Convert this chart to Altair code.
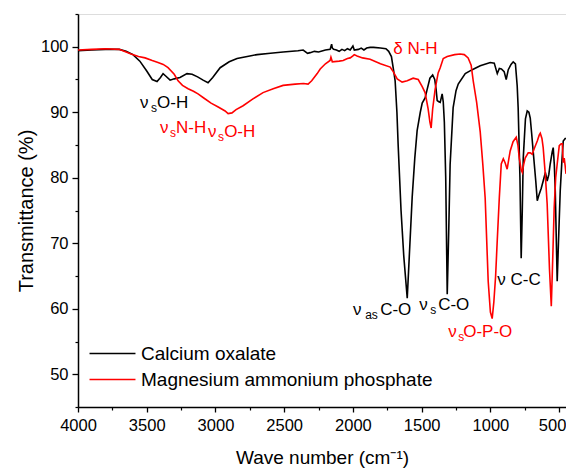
import altair as alt
import pandas as pd

# ---------------- data ----------------
series_names = ["Calcium oxalate", "Magnesium ammonium phosphate"]
series_colors = ["#000000", "#ff0000"]

co_wn = [4000, 3900, 3800, 3700, 3650, 3600, 3550, 3500, 3460, 3425, 3400, 3381, 3360, 3330,
         3300, 3258, 3207, 3170, 3130, 3090, 3054, 3020, 2966, 2900, 2843, 2750, 2697, 2600,
         2508, 2400, 2362, 2330, 2311, 2280, 2250, 2200, 2166, 2155, 2150, 2140, 2120, 2100,
         2080, 2060, 2040, 2020, 2000, 1990, 1960, 1940, 1920, 1900, 1875, 1850, 1800, 1760,
         1740, 1720, 1705, 1693, 1680, 1671, 1650, 1630, 1605, 1590, 1569, 1550, 1533, 1510,
         1496, 1475, 1460, 1440, 1420, 1405, 1395, 1387, 1375, 1365, 1351, 1343, 1335, 1325,
         1314, 1303, 1293, 1271, 1250, 1234, 1183, 1132, 1074, 1001, 972, 950, 935, 920, 900,
         885, 870, 850, 834, 818, 805, 798, 785, 776, 768, 761, 745, 732, 720, 710, 700, 689,
         670, 659, 645, 630, 616, 600, 587, 575, 565, 550, 543, 535, 528, 520, 514, 505, 492,
         480, 470, 456, 450]
co_t = [99.4, 99.5, 99.6, 99.6, 99.3, 98.8, 97.8, 96.3, 95.0, 94.7, 95.3, 95.9, 95.5, 94.9,
        95.1, 95.3, 95.9, 95.8, 95.4, 94.9, 94.5, 95.3, 96.8, 97.7, 98.2, 98.6, 98.8, 99.0,
        99.2, 99.4, 99.5, 99.0, 99.1, 99.3, 99.2, 99.5, 99.6, 100.4, 99.8, 99.6, 99.5, 99.3,
        99.6, 99.4, 99.7, 99.5, 100.1, 99.5, 99.6, 99.8, 99.5, 99.8, 99.9, 99.9, 99.8, 99.7,
        99.3, 98.5, 96.5, 94.8, 90.0, 85.0, 75.0, 68.0, 61.6, 68.0, 77.0, 83.0, 87.2, 90.0,
        91.4, 92.2, 93.5, 95.2, 95.7, 95.0, 93.5, 91.8, 91.6, 91.5, 92.8, 91.6, 88.5, 80.0,
        62.2, 72.0, 82.0, 90.7, 93.3, 94.3, 95.9, 96.5, 97.1, 97.6, 97.5, 95.9, 96.7, 96.6, 96.2,
        95.0, 96.5, 97.3, 97.7, 97.4, 94.0, 90.7, 80.0, 67.7, 75.0, 83.0, 89.0, 90.2, 90.0, 89.1,
        86.8, 84.1, 79.5, 76.5, 77.5, 78.4, 79.5, 80.8, 79.5, 80.5, 82.1, 84.0, 84.6, 82.0, 78.0,
        70.0, 64.2, 70.0, 78.0, 82.5, 85.6, 86.0, 86.0]

map_wn = [4000, 3900, 3800, 3700, 3650, 3614, 3560, 3512, 3460, 3418, 3380, 3345, 3300, 3272,
          3240, 3199, 3160, 3127, 3080, 3032, 2980, 2930, 2908, 2880, 2850, 2799, 2730, 2654,
          2580, 2508, 2420, 2360, 2326, 2300, 2260, 2238, 2200, 2166, 2160, 2150, 2100, 2071,
          2040, 2020, 2000, 1990, 1970, 1930, 1875, 1800, 1729, 1707, 1678, 1642, 1605, 1562,
          1525, 1496, 1475, 1453, 1440, 1431, 1420, 1402, 1380, 1365, 1343, 1314, 1260, 1220,
          1190, 1162, 1140, 1125, 1100, 1074, 1055, 1038, 1016, 1000, 987, 975, 962, 950, 935,
          921, 906, 893, 878, 865, 856, 835, 812, 800, 790, 776, 768, 758, 747, 725, 710, 696,
          680, 659, 645, 637, 625, 616, 601, 587, 570, 557, 546, 536, 525, 514, 499, 485, 477,
          470, 463, 456, 450]
map_t = [99.5, 99.6, 99.7, 99.6, 99.2, 98.9, 98.5, 98.3, 97.9, 97.6, 97.3, 96.8, 95.8, 94.8,
         94.1, 93.6, 93.2, 92.8, 92.1, 91.4, 90.8, 90.2, 89.8, 89.9, 90.4, 91.0, 92.0, 93.0,
         93.6, 94.1, 94.3, 94.4, 94.3, 94.8, 95.9, 96.6, 97.4, 97.9, 98.4, 97.7, 97.8, 97.9,
         98.2, 98.3, 98.6, 98.8, 98.6, 98.3, 98.1, 97.4, 96.9, 96.2, 95.1, 94.6, 94.8, 95.2,
         95.0, 93.9, 93.0, 90.5, 88.5, 87.6, 90.5, 93.5, 96.0, 96.8, 98.2, 98.5, 98.8, 98.9,
         98.8, 98.3, 97.2, 94.8, 91.5, 87.0, 82.0, 76.9, 64.2, 59.5, 58.5, 61.0, 65.0, 70.5, 77.0,
         82.1, 82.9, 82.3, 81.3, 83.0, 84.1, 85.5, 86.2, 85.0, 83.0, 81.2, 80.8, 82.0, 83.0,
         83.8, 83.8, 83.6, 84.5, 85.6, 86.5, 86.8, 86.0, 84.6, 80.6, 76.0, 66.0, 60.4, 68.0,
         75.4, 80.0, 82.1, 84.9, 85.2, 85.2, 82.3, 83.0, 81.8, 80.6]

x_major = [4000, 3500, 3000, 2500, 2000, 1500, 1000, 500]
x_minor = [3750, 3250, 2750, 2250, 1750, 1250, 750]
y_major = [50, 60, 70, 80, 90, 100]
y_minor = [45, 55, 65, 75, 85, 95, 105]

# annotation pieces: text, wave number, transmittance, colour series, kind
ann_text = ["ν", "s", "O-H", "ν", "s", "N-H", "ν", "s", "O-H", "δ N-H",
            "ν", "as", "C-O", "ν", "s", "C-O", "ν", "s", "O-P-O", "ν C-C"]
ann_wn = [3549, 3469, 3425, 3403, 3330, 3287, 3054, 2981, 2937, 1707,
          1999, 1911, 1802, 1518, 1438, 1380, 1307, 1234, 1198, 950]
ann_t = [90.67, 90.06, 90.67, 86.85, 86.24, 86.85, 86.24, 85.63, 86.24, 98.93,
         59.02, 58.41, 59.02, 59.79, 59.17, 59.79, 55.66, 55.05, 55.66, 63.61]
ann_series = [0, 0, 0, 1, 1, 1, 1, 1, 1, 1, 0, 0, 0, 0, 0, 0, 1, 1, 1, 0]
ann_kind = ["main", "sub", "main", "main", "sub", "main", "main", "sub", "main", "main",
            "main", "sub", "main", "main", "sub", "main", "main", "sub", "main", "main"]

# ---------------- tables ----------------
df_co = pd.DataFrame({"wn": co_wn, "T": co_t, "series": series_names[0]})
df_map = pd.DataFrame({"wn": map_wn, "T": map_t, "series": series_names[1]})
df_ann = pd.DataFrame({"text": ann_text, "wn": ann_wn, "T": ann_t,
                       "color": [series_colors[i] for i in ann_series], "kind": ann_kind})

FONT = "Liberation Sans"
xscale = alt.Scale(domain=[4000, 450], nice=False, zero=False)
yscale = alt.Scale(domain=[45, 105], nice=False, zero=False)
cscale = alt.Scale(domain=series_names, range=series_colors)

x_major_axis = alt.Axis(values=x_major, format="d", title="Wave number (cm⁻¹)", orient="bottom",
                        tickSize=5, tickWidth=1.3, tickColor="black", domainColor="black",
                        domainWidth=1.5, labelFont=FONT, labelFontSize=16.5, labelColor="black",
                        labelPadding=5, titleFont=FONT, titleFontSize=19, titleFontWeight="normal",
                        titleColor="black", titlePadding=15, grid=False, labelFlush=False,
                        labelOffset={"condition": {"test": "datum.value == 500", "value": -7},
                                     "value": 0})
y_major_axis = alt.Axis(values=y_major, title="Transmittance (%)", orient="left",
                        tickSize=6, tickWidth=1.3, tickColor="black", domainColor="black",
                        domainWidth=1.5, labelFont=FONT, labelFontSize=16.5, labelColor="black",
                        labelPadding=4, titleFont=FONT, titleFontSize=20, titleFontWeight="normal",
                        titleColor="black", titlePadding=4, grid=False, labelFlush=False)
x_minor_axis = alt.Axis(values=x_minor, orient="bottom", labels=False, title="", tickSize=3,
                        tickWidth=1.2, tickColor="black", domain=False, grid=False)
y_minor_axis = alt.Axis(values=y_minor, orient="left", labels=False, title="", tickSize=3,
                        tickWidth=1.2, tickColor="black", domain=False, grid=False)

legend = alt.Legend(title=None, orient="none", legendX=25, legendY=330,
                    symbolType="M-4,0H4", symbolSize=132, symbolStrokeWidth=1.6,
                    labelFont=FONT, labelFontSize=19, labelColor="black", labelLimit=500,
                    labelOffset=19, padding=0, rowPadding=6)

black_line = alt.Chart(df_co).mark_line(strokeWidth=1.6, clip=True).encode(
    x=alt.X("wn:Q", scale=xscale, axis=x_major_axis),
    y=alt.Y("T:Q", scale=yscale, axis=y_major_axis),
    color=alt.Color("series:N", scale=cscale, legend=legend),
)
red_line = alt.Chart(df_map).mark_line(strokeWidth=1.6, clip=True).encode(
    x=alt.X("wn:Q", scale=xscale, axis=x_minor_axis),
    y=alt.Y("T:Q", scale=yscale, axis=y_minor_axis),
    color=alt.Color("series:N", scale=cscale, legend=legend),
)
main_text = alt.Chart(df_ann).transform_filter(alt.datum.kind == "main").mark_text(
    align="left", baseline="alphabetic", font=FONT, fontSize=17).encode(
    x=alt.X("wn:Q", scale=xscale, axis=None),
    y=alt.Y("T:Q", scale=yscale, axis=None),
    text="text:N",
    color=alt.Color("color:N", scale=None),
)
sub_text = alt.Chart(df_ann).transform_filter(alt.datum.kind == "sub").mark_text(
    align="left", baseline="alphabetic", font=FONT, fontSize=12).encode(
    x=alt.X("wn:Q", scale=xscale, axis=None),
    y=alt.Y("T:Q", scale=yscale, axis=None),
    text="text:N",
    color=alt.Color("color:N", scale=None),
)

chart = alt.layer(black_line, red_line, main_text, sub_text).resolve_axis(
    x="independent", y="independent"
).properties(
    width=488, height=393,
    autosize=alt.AutoSizeParams(type="none"),
    padding={"left": 70, "top": 6, "right": 0, "bottom": 62},
).configure_view(stroke="black", strokeWidth=1.5).configure(background="white")

chart.save("out.html", embed_options={"renderer": "svg", "actions": False})
